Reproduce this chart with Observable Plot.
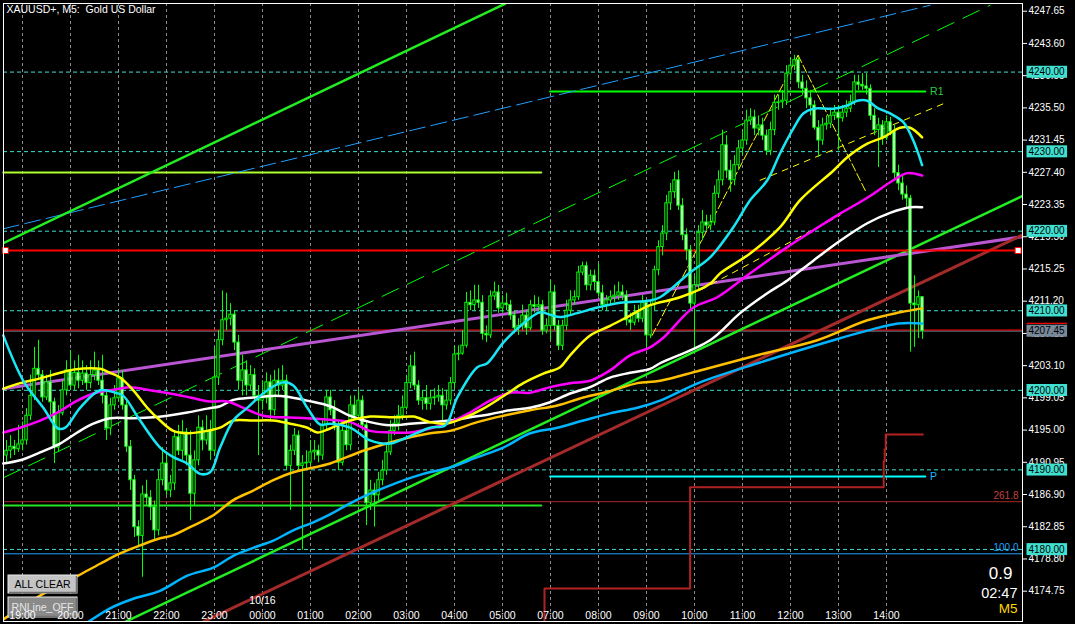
<!DOCTYPE html>
<html><head><meta charset="utf-8">
<script src="https://cdn.jsdelivr.net/npm/d3@7"></script>
<script src="https://cdn.jsdelivr.net/npm/@observablehq/plot@0.6"></script>
<style>
html,body{margin:0;padding:0;background:#000;}
#chart{position:relative;width:1075px;height:624px;overflow:hidden;background:#000}
#chart svg{display:block}
</style></head><body><div id="chart"></div>
<script>
// ---------- DATA ----------
const title = "XAUUSD+, M5:\u00a0 Gold US Dollar";
const firstBar = -4; // bar index of the first candle (index 0 = 19:00)
// [open, high, low, close] per M5 bar
const ohlc = [
[4191.8,4193.7,4190.9,4192.4],[4192.4,4194.3,4191.4,4192.9],[4192.9,4193.7,4191.8,4192.6],[4192.6,4195.6,4192.2,4193.2],
[4193.2,4196.0,4192.4,4193.7],[4193.7,4197.7,4193.1,4196.8],[4196.8,4201.9,4196.2,4199.3],[4199.3,4205.4,4198.7,4202.7],
[4202.7,4206.3,4201.2,4201.9],[4201.9,4202.5,4198.5,4199.1],[4199.1,4201.9,4198.7,4201.0],[4201.0,4202.5,4196.2,4198.5],
[4198.5,4199.0,4190.8,4192.8],[4192.8,4198.1,4192.2,4197.1],[4197.1,4201.2,4196.8,4200.0],[4200.0,4203.7,4199.3,4202.5],
[4202.5,4205.0,4200.0,4200.6],[4200.6,4203.7,4200.0,4202.2],[4202.2,4204.4,4200.2,4201.2],[4201.2,4203.7,4200.6,4202.1],
[4202.1,4203.1,4200.0,4200.9],[4200.9,4203.7,4200.2,4201.9],[4201.9,4204.8,4201.2,4202.5],[4202.5,4203.7,4200.6,4201.2],
[4201.2,4204.4,4198.3,4199.3],[4199.3,4200.0,4193.7,4195.2],[4195.2,4199.0,4194.3,4198.1],[4198.1,4200.6,4197.5,4199.0],
[4199.0,4202.7,4198.5,4201.5],[4201.5,4202.5,4197.5,4198.1],[4198.1,4198.7,4192.2,4192.9],[4192.9,4193.7,4187.4,4188.7],
[4188.7,4189.3,4181.5,4182.8],[4182.8,4183.6,4180.2,4181.7],[4181.7,4188.0,4176.5,4186.9],[4186.9,4188.7,4185.5,4186.5],
[4186.5,4187.4,4183.6,4185.3],[4185.3,4186.1,4181.1,4182.4],[4182.4,4189.9,4181.7,4188.7],[4188.7,4192.8,4188.0,4190.8],
[4190.8,4191.8,4186.8,4187.4],[4187.4,4189.3,4186.5,4188.3],[4188.3,4194.9,4187.4,4194.1],[4194.1,4195.6,4191.8,4192.4],
[4192.4,4196.2,4191.2,4194.7],[4194.7,4195.2,4190.5,4191.8],[4191.8,4194.9,4183.6,4187.0],[4187.0,4192.4,4185.5,4191.2],
[4191.2,4196.8,4190.5,4195.3],[4195.3,4196.2,4192.4,4193.7],[4193.7,4196.8,4193.1,4194.9],[4194.9,4196.2,4191.2,4192.4],
[4192.4,4205.4,4191.8,4201.6],[4201.6,4207.5,4200.6,4206.3],[4206.3,4212.5,4205.6,4208.8],[4208.8,4212.2,4207.5,4209.0],
[4209.0,4210.9,4208.1,4209.5],[4209.5,4210.0,4205.0,4206.0],[4206.0,4206.9,4200.0,4201.2],[4201.2,4204.4,4199.3,4202.5],
[4202.5,4203.7,4199.3,4200.6],[4200.6,4203.1,4200.0,4201.9],[4201.9,4202.7,4198.7,4199.3],[4199.3,4200.6,4191.8,4198.7],
[4198.7,4201.2,4197.5,4199.0],[4199.0,4202.2,4198.3,4201.0],[4201.0,4201.9,4196.2,4197.5],[4197.5,4202.5,4196.8,4201.2],
[4201.2,4202.7,4199.3,4200.6],[4200.6,4203.1,4200.0,4201.2],[4201.2,4201.9,4189.9,4190.5],[4190.5,4193.1,4184.9,4192.4],
[4192.4,4195.2,4191.8,4194.3],[4194.3,4194.9,4189.9,4190.5],[4190.5,4191.8,4179.9,4190.8],[4190.8,4192.4,4189.9,4190.9],
[4190.9,4193.7,4190.5,4192.2],[4192.2,4193.7,4191.2,4192.4],[4192.4,4193.1,4190.9,4191.8],[4191.8,4196.2,4191.2,4195.6],
[4195.6,4200.0,4194.9,4199.1],[4199.1,4200.0,4196.8,4197.5],[4197.5,4198.7,4194.9,4195.6],[4195.6,4196.2,4189.9,4190.9],
[4190.9,4195.6,4190.5,4194.9],[4194.9,4196.2,4192.4,4193.1],[4193.1,4199.3,4192.4,4198.1],[4198.1,4199.3,4196.2,4196.8],
[4196.8,4200.0,4196.2,4198.7],[4198.7,4199.3,4194.9,4195.6],[4195.6,4196.2,4183.0,4185.8],[4185.8,4188.7,4184.9,4187.4],
[4187.4,4188.3,4182.8,4186.8],[4186.8,4189.7,4186.1,4188.7],[4188.7,4191.2,4188.0,4189.9],[4189.9,4193.1,4189.3,4192.2],
[4192.2,4196.2,4191.8,4194.9],[4194.9,4196.8,4194.3,4195.8],[4195.8,4198.1,4194.9,4196.8],[4196.8,4199.3,4196.2,4197.8],
[4197.8,4201.9,4197.5,4200.9],[4200.9,4204.4,4200.2,4203.0],[4203.0,4204.8,4200.0,4200.6],[4200.6,4201.2,4198.1,4198.7],
[4198.7,4200.0,4197.5,4199.0],[4199.0,4200.6,4197.5,4198.3],[4198.3,4200.0,4197.5,4199.0],[4199.0,4200.2,4198.1,4199.1],
[4199.1,4200.6,4198.5,4199.3],[4199.3,4200.2,4196.2,4198.1],[4198.1,4200.0,4197.5,4198.7],[4198.7,4201.6,4198.1,4200.9],
[4200.9,4205.6,4200.2,4204.5],[4204.5,4205.6,4203.7,4204.6],[4204.6,4207.5,4204.4,4205.6],[4205.6,4212.3,4205.3,4211.0],
[4211.0,4212.5,4210.0,4210.7],[4210.7,4213.2,4210.0,4211.3],[4211.3,4213.2,4210.3,4211.0],[4211.0,4211.9,4206.3,4207.1],
[4207.1,4208.1,4206.0,4206.9],[4206.9,4212.5,4206.5,4211.8],[4211.8,4213.6,4211.3,4212.3],[4212.3,4213.2,4209.7,4210.3],
[4210.3,4211.9,4209.7,4210.9],[4210.9,4212.2,4210.0,4210.7],[4210.7,4211.3,4208.8,4209.4],[4209.4,4210.0,4207.1,4207.8],
[4207.8,4209.0,4206.9,4208.1],[4208.1,4210.7,4207.5,4209.4],[4209.4,4210.0,4206.9,4207.8],[4207.8,4211.3,4207.5,4210.7],
[4210.7,4211.9,4209.7,4210.5],[4210.5,4211.7,4210.0,4210.7],[4210.7,4211.3,4206.9,4207.5],[4207.5,4209.0,4207.1,4208.1],
[4208.1,4213.8,4206.3,4212.3],[4212.3,4213.2,4207.5,4208.1],[4208.1,4208.8,4205.0,4205.6],[4205.6,4208.8,4205.0,4208.1],
[4208.1,4211.3,4207.5,4210.0],[4210.0,4212.5,4209.4,4211.3],[4211.3,4212.5,4210.7,4211.7],[4211.7,4215.6,4211.3,4214.8],
[4214.8,4216.1,4214.4,4215.6],[4215.6,4216.1,4212.5,4213.2],[4213.2,4215.1,4212.5,4214.4],[4214.4,4215.1,4212.5,4213.6],
[4213.6,4215.9,4211.7,4212.2],[4212.2,4213.2,4210.0,4210.7],[4210.7,4211.9,4210.0,4211.3],[4211.3,4212.5,4210.7,4211.7],
[4211.7,4213.2,4211.0,4211.9],[4211.9,4213.6,4211.3,4212.3],[4212.3,4213.2,4211.3,4211.9],[4211.9,4212.5,4208.1,4208.8],
[4208.8,4209.7,4207.5,4208.5],[4208.5,4210.7,4208.1,4209.7],[4209.7,4210.7,4208.5,4209.0],[4209.0,4211.9,4208.5,4211.0],
[4211.0,4211.3,4205.3,4206.9],[4206.9,4211.3,4206.5,4210.7],[4210.7,4215.6,4210.0,4215.1],[4215.1,4218.8,4214.4,4218.0],
[4218.0,4220.7,4216.9,4219.7],[4219.7,4224.5,4218.8,4223.5],[4223.5,4226.0,4222.6,4224.9],[4224.9,4227.4,4224.1,4226.4],
[4226.4,4227.6,4222.6,4223.2],[4223.2,4224.1,4218.8,4219.5],[4219.5,4220.3,4216.3,4217.6],[4217.6,4218.2,4210.0,4210.9],
[4210.9,4214.4,4205.0,4213.2],[4213.2,4220.7,4212.5,4219.8],[4219.8,4222.6,4218.8,4221.1],[4221.1,4222.0,4220.1,4220.7],
[4220.7,4222.0,4220.1,4221.1],[4221.1,4225.7,4220.7,4224.7],[4224.7,4227.6,4224.1,4226.4],[4226.4,4232.7,4225.7,4230.8],
[4230.8,4232.0,4226.6,4227.6],[4227.6,4228.9,4224.9,4226.4],[4226.4,4229.5,4225.7,4228.3],[4228.3,4231.4,4227.6,4230.4],
[4230.4,4232.7,4229.5,4231.4],[4231.4,4235.2,4230.8,4233.9],[4233.9,4235.4,4233.3,4234.3],[4234.3,4235.2,4232.0,4232.9],
[4232.9,4234.5,4232.0,4233.3],[4233.3,4234.2,4231.4,4232.0],[4232.0,4232.7,4229.5,4230.1],[4230.1,4233.7,4229.5,4232.7],
[4232.7,4237.1,4232.0,4236.1],[4236.1,4237.1,4235.2,4236.2],[4236.2,4237.7,4235.4,4236.4],[4236.4,4240.8,4235.8,4239.8],
[4239.8,4241.8,4238.9,4240.8],[4240.8,4242.1,4240.2,4241.5],[4241.5,4241.8,4237.9,4238.7],[4238.7,4239.6,4237.1,4237.9],
[4237.9,4238.9,4235.4,4236.7],[4236.7,4237.7,4234.5,4235.8],[4235.8,4236.4,4232.7,4233.0],[4233.0,4233.9,4229.3,4231.4],
[4231.4,4234.2,4230.8,4233.3],[4233.3,4234.5,4232.7,4233.5],[4233.5,4235.4,4232.9,4234.5],[4234.5,4235.8,4233.9,4234.9],
[4234.9,4235.8,4230.1,4234.2],[4234.2,4235.8,4233.7,4234.9],[4234.9,4236.4,4234.3,4235.4],[4235.4,4237.1,4234.9,4236.2],
[4236.2,4239.6,4235.8,4238.7],[4238.7,4239.6,4237.7,4238.4],[4238.4,4239.8,4237.7,4238.2],[4238.2,4239.8,4237.1,4237.9],
[4237.9,4238.4,4233.9,4234.5],[4234.5,4235.4,4232.0,4232.7],[4232.7,4234.2,4228.0,4233.3],[4233.3,4233.9,4230.8,4231.7],
[4231.7,4234.5,4231.4,4233.7],[4233.7,4234.3,4232.0,4232.5],[4232.5,4233.3,4226.6,4227.3],[4227.3,4228.3,4225.1,4226.0],
[4226.0,4227.0,4223.9,4224.6],[4224.6,4225.7,4223.0,4224.1],[4224.1,4224.5,4204.8,4210.9],[4210.9,4214.4,4205.4,4210.7],
[4210.7,4212.5,4206.5,4211.7],[4211.7,4211.8,4206.4,4207.45]
];

// time axis (bar index -> label); 06:00 is a market gap
const hourIdx = [0,12,24,36,48,60,72,84,96,108,120,132,144,156,168,180,192,204,216];
const hourLabels = ["19:00","20:00","21:00","22:00","23:00","00:00","01:00","02:00","03:00","04:00","05:00","07:00","08:00","09:00","10:00","11:00","12:00","13:00","14:00"];
const dateMarks = [{i: 60, label: "10/16"}];

// price axis
const yTicks = [4174.75,4178.80,4182.85,4186.90,4190.95,4195.00,4199.05,4203.10,4207.15,4211.20,4215.25,4219.30,4223.35,4227.40,4231.45,4235.50,4239.55,4243.60,4247.65];
const roundLevels = [4240,4230,4220,4210,4200,4190,4180];
const bid = 4207.45;
const ask = 4207.58;

// moving averages [bar index, price]
const maCyan = [[-4.8,4206.9],[0.2,4201.2],[5.2,4197.8],[8.9,4195.2],[10.7,4195.3],[14.4,4197.8],[19.4,4200.0],[23.2,4199.7],[25.2,4199.3],[29.4,4196.2],[34.4,4192.8],[37.7,4191.6],[41.2,4190.8],[44.4,4189.5],[46.9,4189.7],[49.4,4192.8],[52.7,4196.2],[56.2,4197.8],[61.2,4200.0],[65.2,4201.0],[67.7,4200.6],[71.2,4197.8],[74.4,4195.7],[76.9,4195.8],[81.9,4195.3],[86.9,4193.7],[91.9,4193.3],[96.2,4194.1],[101.9,4195.3],[105.7,4195.6],[108.7,4199.1],[113.7,4202.9],[116.2,4203.4],[120.2,4206.0],[125.2,4208.4],[129.4,4209.8],[131.9,4209.5],[134.4,4209.2],[138.7,4209.7],[143.7,4210.4],[149.4,4211.0],[156.9,4211.3],[159.4,4211.7],[166.9,4214.8],[171.9,4216.7],[177.7,4220.5],[181.9,4223.9],[186.2,4226.4],[189.4,4229.8],[192.7,4232.9],[195.2,4234.8],[197.7,4235.4],[202.7,4235.4],[206.2,4235.8],[208.7,4236.4],[211.2,4236.4],[213.7,4235.5],[216.9,4234.8],[220.2,4233.7],[222.7,4231.4],[224.9,4228.3]];
const maYellow = [[-4.8,4200.2],[-0.6,4200.9],[4.4,4201.5],[9.4,4202.2],[12.7,4202.6],[19.4,4202.7],[21.9,4202.2],[24.4,4201.6],[27.7,4200.0],[31.2,4197.8],[34.4,4196.2],[37.7,4194.9],[41.2,4194.6],[46.2,4194.9],[49.4,4195.3],[52.7,4196.2],[57.7,4196.2],[62.7,4196.2],[66.9,4195.8],[71.2,4195.3],[73.7,4194.7],[76.9,4195.2],[81.9,4196.2],[86.9,4196.7],[93.7,4196.6],[97.7,4196.7],[101.9,4196.0],[105.7,4195.8],[110.2,4196.5],[115.2,4197.7],[121.2,4199.6],[125.2,4200.9],[130.2,4202.1],[134.4,4202.9],[136.9,4204.4],[141.9,4206.9],[146.9,4208.1],[151.9,4209.4],[156.9,4210.7],[164.4,4211.7],[171.9,4213.4],[174.4,4214.7],[181.9,4217.2],[189.4,4220.5],[194.4,4223.9],[202.7,4227.6],[206.2,4229.3],[211.2,4231.0],[215.2,4231.8],[219.4,4233.0],[221.9,4233.0],[224.9,4231.8]];
const maMagenta = [[-4.8,4194.7],[-0.6,4195.3],[4.4,4196.2],[8.7,4197.2],[13.7,4198.7],[17.7,4199.6],[21.9,4200.0],[26.9,4200.4],[31.9,4200.0],[36.9,4199.6],[41.9,4199.1],[46.9,4198.6],[51.2,4198.6],[55.2,4197.8],[60.2,4196.8],[65.2,4196.6],[71.2,4196.5],[76.9,4196.3],[81.9,4196.0],[86.9,4194.9],[91.9,4194.7],[96.9,4194.7],[101.9,4195.2],[106.9,4196.0],[111.9,4197.2],[116.9,4198.7],[121.9,4199.7],[126.9,4199.7],[131.9,4200.4],[136.9,4200.9],[141.9,4201.2],[146.9,4202.5],[151.9,4204.4],[156.9,4205.4],[160.2,4206.6],[167.7,4210.4],[173.7,4211.7],[181.9,4214.7],[191.2,4218.0],[197.7,4220.1],[204.4,4222.2],[211.2,4224.2],[217.7,4226.4],[221.2,4227.3],[224.9,4227.0]];
const maWhite = [[-4.8,4190.8],[-0.6,4191.2],[4.4,4192.2],[9.4,4193.3],[13.7,4194.7],[17.7,4195.8],[21.9,4196.5],[27.7,4196.5],[32.7,4196.6],[36.2,4196.8],[41.2,4197.2],[46.2,4197.7],[49.4,4198.0],[52.7,4198.8],[57.7,4199.1],[62.7,4199.3],[66.2,4199.2],[71.2,4198.7],[76.9,4198.0],[81.9,4196.8],[86.9,4196.0],[91.9,4195.6],[96.9,4195.8],[101.9,4196.0],[106.9,4196.2],[111.9,4196.6],[116.9,4197.0],[121.9,4197.5],[126.9,4197.8],[131.9,4198.5],[136.9,4199.6],[141.9,4200.4],[146.9,4201.6],[151.9,4202.2],[156.9,4202.7],[159.4,4203.4],[171.9,4206.3],[179.4,4209.7],[186.2,4212.2],[191.2,4213.8],[197.7,4216.3],[204.4,4218.8],[211.2,4221.0],[216.9,4222.3],[221.9,4223.0],[224.9,4223.0]];
const maOrange = [[-4.8,4171.2],[4.4,4174.2],[13.9,4176.7],[19.4,4178.2],[24.4,4179.5],[29.4,4180.5],[34.4,4181.4],[37.7,4181.8],[42.7,4183.0],[47.7,4184.3],[52.7,4186.2],[57.7,4187.4],[62.7,4188.7],[67.7,4189.7],[71.9,4190.2],[76.9,4190.8],[85.2,4192.4],[93.7,4193.7],[101.9,4194.6],[106.9,4194.9],[113.7,4196.0],[120.2,4196.8],[126.9,4197.5],[133.7,4198.1],[140.2,4199.1],[146.9,4199.9],[153.7,4200.9],[159.4,4201.2],[169.4,4202.5],[184.4,4204.5],[198.7,4206.3],[211.2,4208.8],[219.4,4209.8],[224.9,4210.3]];
const maBlue = [[16.2,4170.8],[21.9,4172.6],[27.7,4173.8],[34.4,4174.8],[41.2,4176.7],[47.7,4177.7],[52.7,4179.2],[57.7,4180.2],[62.7,4181.1],[67.7,4182.4],[72.7,4183.4],[76.9,4184.4],[81.9,4185.8],[86.9,4187.0],[93.7,4188.4],[100.2,4189.5],[106.9,4190.3],[113.7,4191.6],[120.2,4192.8],[126.9,4194.6],[133.7,4195.3],[140.2,4196.2],[146.9,4197.1],[153.7,4197.8],[159.4,4198.7],[169.4,4201.0],[184.4,4203.5],[202.7,4206.3],[211.2,4207.5],[218.9,4208.4],[224.9,4208.4]];

// drawn objects: endpoints [bar index, price]
const trendLimeA = [[-4.8,4218.5],[120.7,4248.6]];
const trendLimeB = [[25.7,4170.9],[249.9,4224.4]];
const channelMid = [[-4.8,4189.0],[241.9,4248.4]];
const channelBlue = [[-4.8,4220.3],[226.9,4248.4]];
const trendOrchid = [[-4.8,4200.2],[249.9,4219.3]];
const trendBrown = [[45.2,4170.9],[249.9,4219.5]];
const fanA = [[157.4,4206.9],[193.9,4242.1]];
const fanB = [[193.9,4242.1],[210.7,4225.1]];
const fanC = [[184.4,4226.4],[230.6,4236.1]];
const fanD = [[166.9,4211.9],[204.4,4222.0]];
const redLevel = [[-4.3,4217.57],[248.9,4217.57]];
const levelYellowGreen = [[-4.8,4227.38],[129.7,4227.38]];
const levelGreen = [[-4.8,4185.52],[129.7,4185.52]];
const pivotR1 = [[131.9,4237.56],[225.7,4237.56]];
const pivotP = [[131.9,4189.17],[225.7,4189.17]];
const pivotLabels = [{i: 226.9, p: 4237.56, t: "R1"}, {i: 226.9, p: 4189.17, t: "P"}];
const fibLevels = [{p: 4186.0, t: "261.8"}, {p: 4179.45, t: "100.0"}];
const rangeSteps = [[130.4,4169.0],[130.5,4175.1],[166.9,4187.8],[215.3,4191.1],[215.55,4192.6],[215.8,4194.45],[225.1,4194.45]];
const infoSpread = "0.9", infoTimer = "02:47", infoPeriod = "M5";
const buttons = ["ALL CLEAR", "RNLine_OFF"];

// ---------- CHART ----------
const bars = ohlc.map(([o, h, l, c], k) => ({i: firstBar + k, o, h, l, c}));
const hours = hourIdx.map((i, k) => ({i, label: hourLabels[k]}));
const lime = "#00ff00";
const F = "'Liberation Sans', Arial, sans-serif";
const fmt = d => d.toFixed(2);

const svg = Plot.plot({
  width: 1075, height: 624,
  marginLeft: 3, marginRight: 53, marginTop: 3, marginBottom: 3,
  style: {background: "#000", fontFamily: F, overflow: "visible"},
  x: {domain: [-4.75, 250], axis: null},
  y: {domain: [4170.94, 4248.62], axis: null},
  marks: [
    Plot.ruleX(hourIdx, {stroke: "#8c8c8c", strokeDasharray: "3,3"}),
    Plot.ruleY(roundLevels, {stroke: "#40e0d0", strokeDasharray: "4,3"}),
    Plot.ruleY(fibLevels, {y: "p", stroke: d => d.t === "261.8" ? "#a52a2a" : "#1ea0ff"}),
    Plot.text(fibLevels, {y: "p", text: "t", frameAnchor: "right", dx: -4, dy: -6, textAnchor: "end",
      fill: d => d.t === "261.8" ? "#c04040" : "#1ea0ff", fontSize: 10}),
    Plot.line(levelYellowGreen, {stroke: "#adff2f", strokeWidth: 2}),
    Plot.line(levelGreen, {stroke: "#22e622", strokeWidth: 2}),
    Plot.line(pivotR1, {stroke: "#00ff00", strokeWidth: 2}),
    Plot.line(pivotP, {stroke: "#00ffff", strokeWidth: 2}),
    Plot.text(pivotLabels, {x: "i", y: "p", text: "t", textAnchor: "start", fontSize: 10.5,
      fill: d => d.t === "R1" ? "#2ecc40" : "#1eb4ff"}),
    Plot.line(rangeSteps, {stroke: "#b22222", strokeWidth: 2, curve: "step-after", clip: true}),
    Plot.ruleY([bid], {stroke: "#8090a0"}),
    Plot.ruleY([ask], {stroke: "#ff0000"}),
    Plot.line(channelMid, {stroke: lime, strokeWidth: 1, strokeDasharray: "18,10", clip: true}),
    Plot.line(channelBlue, {stroke: "#1e9fff", strokeWidth: 1, strokeDasharray: "16,6", clip: true}),
    Plot.line(trendLimeA, {stroke: "#22ee22", strokeWidth: 2.5, clip: true}),
    Plot.line(trendLimeB, {stroke: "#22ee22", strokeWidth: 2.5, clip: true}),
    Plot.line(trendOrchid, {stroke: "#ba55d3", strokeWidth: 3, clip: true}),
    Plot.line(trendBrown, {stroke: "#a52a2a", strokeWidth: 3, clip: true}),
    Plot.line(redLevel, {stroke: "#ff0000", strokeWidth: 2}),
    Plot.dot(redLevel, {symbol: "square", r: 3.4, fill: "white", stroke: "#ff0000", strokeWidth: 1}),
    Plot.line(fanA, {stroke: "#ffff00", strokeWidth: 1, strokeDasharray: "8,3"}),
    Plot.line(fanB, {stroke: "#ffff00", strokeWidth: 1, strokeDasharray: "8,3"}),
    Plot.line(fanC, {stroke: "#ffff00", strokeWidth: 1, strokeDasharray: "6,6"}),
    Plot.line(fanD, {stroke: "#ffff00", strokeWidth: 1, strokeDasharray: "6,6"}),
    // candles (bull = black body, bear = white body)
    Plot.ruleX(bars, {x: "i", y1: "l", y2: "h", stroke: lime, strokeWidth: 1}),
    Plot.rect(bars, {x1: d => d.i - 0.3, x2: d => d.i + 0.3, y1: "o", y2: "c",
      fill: d => d.c >= d.o ? "#000" : "#fff", stroke: lime, strokeWidth: 1}),
    // moving averages
    Plot.line(maBlue, {stroke: "#00b4ff", strokeWidth: 2.5, curve: "catmull-rom", clip: true}),
    Plot.line(maOrange, {stroke: "#ffc000", strokeWidth: 2.5, curve: "catmull-rom", clip: true}),
    Plot.line(maWhite, {stroke: "#ffffff", strokeWidth: 2.5, curve: "catmull-rom"}),
    Plot.line(maMagenta, {stroke: "#ff00ff", strokeWidth: 2.5, curve: "catmull-rom"}),
    Plot.line(maYellow, {stroke: "#ffff00", strokeWidth: 2.5, curve: "catmull-rom"}),
    Plot.line(maCyan, {stroke: "#18e6f4", strokeWidth: 2.5, curve: "catmull-rom"}),
    Plot.frame({stroke: "#fff"}),
    Plot.axisY(yTicks, {anchor: "right", tickSize: 4, tickPadding: 2, tickFormat: fmt,
      color: "#fff", fontSize: 10}),
    Plot.text(roundLevels, {y: d => d, text: fmt, frameAnchor: "right", dx: 6,
      textAnchor: "start", fill: "#000", fontSize: 10}),
    Plot.text([bid], {y: d => d, text: fmt, frameAnchor: "right", dx: 6,
      textAnchor: "start", fill: "#000", fontSize: 10}),
    Plot.text([title], {frameAnchor: "top-left", dx: 3, dy: 6, lineAnchor: "middle", textAnchor: "start",
      fill: "#fff", fontSize: 10.5}),
    Plot.text([infoSpread], {frameAnchor: "bottom-right", dx: -10, dy: -48, lineAnchor: "middle",
      textAnchor: "end", fill: "#fff", fontSize: 17}),
    Plot.text([infoTimer], {frameAnchor: "bottom-right", dx: -5, dy: -28.5, lineAnchor: "middle",
      textAnchor: "end", fill: "#fff", fontSize: 14.5}),
    Plot.text([infoPeriod], {frameAnchor: "bottom-right", dx: -5, dy: -13, lineAnchor: "middle",
      textAnchor: "end", fill: "#ffd700", fontSize: 13.5}),
    Plot.text(dateMarks, {x: "i", text: "label", frameAnchor: "bottom", dy: -18, lineAnchor: "bottom",
      fill: "#fff", fontSize: 10.5}),
    Plot.text(hours, {x: "i", text: "label", frameAnchor: "bottom", dy: -3, lineAnchor: "bottom",
      fill: "#fff", fontSize: 10.5})
  ]
});
document.getElementById("chart").appendChild(svg);

const ns = "http://www.w3.org/2000/svg";
const allText = Array.from(svg.querySelectorAll("text"));
// coloured boxes behind the level / bid price labels (found by their text, black fill)
function boxFor(label, color, askLine) {
  allText.filter(t => t.textContent === label && t.closest("g") &&
      (t.getAttribute("fill") === "#000" || (t.parentNode.getAttribute("fill") === "#000"))).forEach(t => {
    const b = t.getBBox();
    const r = document.createElementNS(ns, "rect");
    r.setAttribute("x", b.x - 2); r.setAttribute("y", b.y - 0.5);
    r.setAttribute("width", b.width + 4); r.setAttribute("height", b.height + 1);
    r.setAttribute("fill", color);
    if (t.getAttribute("transform")) r.setAttribute("transform", t.getAttribute("transform"));
    t.parentNode.insertBefore(r, t);
    if (askLine) {
      const a = r.cloneNode();
      a.setAttribute("y", b.y - 2.5); a.setAttribute("height", 1.2); a.setAttribute("fill", "#ff0000");
      t.parentNode.insertBefore(a, t);
    }
  });
}
roundLevels.forEach(v => boxFor(fmt(v), "#40e0d0", false));
boxFor(fmt(bid), "#778899", true);

// MT4 buttons, then time labels drawn over them
const bg = document.createElementNS(ns, "g");
bg.setAttribute("font-family", F);
[{y: 575, h: 18, fill: "#c4c4c4", txt: "#000"}, {y: 597, h: 20, fill: "#8a8a8a", txt: "#e6e6e6"}].forEach((s, k) => {
  const r = document.createElementNS(ns, "rect");
  r.setAttribute("x", 8); r.setAttribute("y", s.y); r.setAttribute("width", 69); r.setAttribute("height", s.h);
  r.setAttribute("fill", s.fill); r.setAttribute("stroke", "#e8e8e8"); r.setAttribute("stroke-width", 1);
  bg.appendChild(r);
  const sh = document.createElementNS(ns, "path");
  sh.setAttribute("d", `M9,${s.y + s.h - 0.5}H76.5V${s.y + 1}`);
  sh.setAttribute("stroke", "#707070"); sh.setAttribute("fill", "none"); sh.setAttribute("stroke-width", 1.5);
  bg.appendChild(sh);
  const t = document.createElementNS(ns, "text");
  t.setAttribute("x", 42.5); t.setAttribute("y", s.y + s.h / 2 + 4); t.setAttribute("text-anchor", "middle");
  t.setAttribute("font-size", 10.5); t.setAttribute("fill", s.txt); t.textContent = buttons[k];
  bg.appendChild(t);
});
svg.appendChild(bg);
["19:00", "10/16"].forEach(lbl => {
  const t = allText.find(e => e.textContent === lbl);
  if (t) svg.appendChild(t.parentNode);
});
</script>
</body></html>
